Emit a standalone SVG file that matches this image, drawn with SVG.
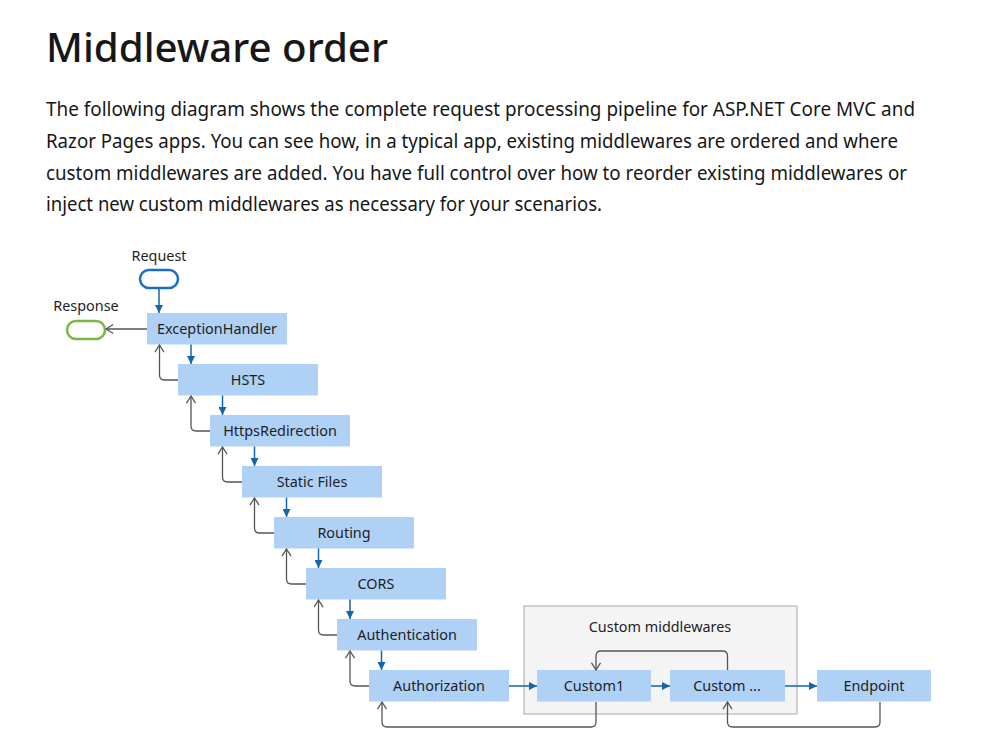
<svg xmlns="http://www.w3.org/2000/svg" width="982" height="755" viewBox="0 0 982 755">
<style>
.title{font-family:"Noto Sans","Open Sans",sans-serif;font-size:40px;font-weight:500;fill:#171717}
.body{font-family:"Noto Sans","Open Sans",sans-serif;font-size:19.5px;fill:#171717}
.box{fill:#b0d1f6}
.lbl{font-family:"Noto Sans","Open Sans",sans-serif;font-size:14.4px;fill:#1e1e1e;text-anchor:middle}
.fwd{stroke:#1565a9;stroke-width:1.5;fill:none;marker-end:url(#ah)}
.back{stroke:#555;stroke-width:1.3;fill:none;marker-end:url(#oa)}
.grp{fill:#f4f4f4;stroke:#a8a8a8;stroke-width:1}
</style>
<defs>
<marker id="ah" viewBox="0 0 10 10" refX="10" refY="5" markerWidth="8" markerHeight="8" markerUnits="userSpaceOnUse" orient="auto">
<path d="M0,0 L10,5 L0,10 z" fill="#1565a9"/>
</marker>
<marker id="oa" viewBox="0 0 10 12" refX="9" refY="6" markerWidth="9" markerHeight="11" markerUnits="userSpaceOnUse" orient="auto">
<path d="M1,1 L9,6 L1,11" fill="none" stroke="#555" stroke-width="1.4"/>
</marker>
</defs>
<rect width="982" height="755" fill="#ffffff"/>
<text class="title" x="46" y="62" textLength="342" lengthAdjust="spacingAndGlyphs">Middleware order</text>
<text class="body" x="46" y="116" textLength="869" lengthAdjust="spacingAndGlyphs">The following diagram shows the complete request processing pipeline for ASP.NET Core MVC and</text>
<text class="body" x="46" y="148" textLength="852" lengthAdjust="spacingAndGlyphs">Razor Pages apps. You can see how, in a typical app, existing middlewares are ordered and where</text>
<text class="body" x="46" y="179.5" textLength="861" lengthAdjust="spacingAndGlyphs">custom middlewares are added. You have full control over how to reorder existing middlewares or</text>
<text class="body" x="46" y="211" textLength="556" lengthAdjust="spacingAndGlyphs">inject new custom middlewares as necessary for your scenarios.</text>

<g id="custom-group">
<rect class="grp" x="524" y="606" width="273" height="108"/>
<text class="lbl" x="660" y="632">Custom middlewares</text>
</g>

<g id="request">
<text class="lbl" x="159" y="261">Request</text>
<rect x="140" y="270" width="38" height="18" rx="9" fill="#fff" stroke="#1a6fc1" stroke-width="2.5"/>
</g>
<g id="response">
<text class="lbl" x="86" y="311">Response</text>
<rect x="67" y="321" width="38" height="18" rx="9" fill="#fff" stroke="#7cb740" stroke-width="2.5"/>
</g>

<g id="exceptionhandler"><rect class="box" x="147" y="313" width="140" height="31.5"/><text class="lbl" x="217" y="334">ExceptionHandler</text></g>
<g id="hsts"><rect class="box" x="178" y="364" width="140" height="31.5"/><text class="lbl" x="248" y="385">HSTS</text></g>
<g id="httpsredirection"><rect class="box" x="210" y="415" width="140" height="31.5"/><text class="lbl" x="280" y="436">HttpsRedirection</text></g>
<g id="staticfiles"><rect class="box" x="242" y="466" width="140" height="31.5"/><text class="lbl" x="312" y="487">Static Files</text></g>
<g id="routing"><rect class="box" x="274" y="517" width="140" height="31.5"/><text class="lbl" x="344" y="538">Routing</text></g>
<g id="cors"><rect class="box" x="306" y="568" width="140" height="31.5"/><text class="lbl" x="376" y="589">CORS</text></g>
<g id="authentication"><rect class="box" x="337" y="619" width="140" height="31.5"/><text class="lbl" x="407" y="640">Authentication</text></g>
<g id="authorization"><rect class="box" x="369" y="670" width="140" height="31.5"/><text class="lbl" x="439" y="691">Authorization</text></g>
<g id="custom1"><rect class="box" x="537" y="670" width="114" height="31.5"/><text class="lbl" x="594" y="691">Custom1</text></g>
<g id="customN"><rect class="box" x="670" y="670" width="115" height="31.5"/><text class="lbl" x="727" y="691">Custom ...</text></g>
<g id="endpoint"><rect class="box" x="817" y="670" width="114" height="31.5"/><text class="lbl" x="874" y="691">Endpoint</text></g>

<g id="connectors">
<path class="fwd" d="M159,288.5 V313"/>
<path class="back" d="M147,329 H106"/>
<path class="fwd" d="M191,344.5 V364"/>
<path class="fwd" d="M222.5,395.5 V415"/>
<path class="fwd" d="M254.5,446.5 V466"/>
<path class="fwd" d="M286.5,497.5 V517"/>
<path class="fwd" d="M318.5,548.5 V568"/>
<path class="fwd" d="M350,599.5 V619"/>
<path class="fwd" d="M381.5,650.5 V670"/>
<path class="back" d="M178,380 H164.5 Q159.5,380 159.5,375 V345"/>
<path class="back" d="M210,431 H196 Q191,431 191,426 V396"/>
<path class="back" d="M242,482 H227.5 Q222.5,482 222.5,477 V447"/>
<path class="back" d="M274,533 H259.5 Q254.5,533 254.5,528 V498"/>
<path class="back" d="M306,584 H291.5 Q286.5,584 286.5,579 V549"/>
<path class="back" d="M337,635 H323.5 Q318.5,635 318.5,630 V600"/>
<path class="back" d="M369,686 H355 Q350,686 350,681 V651"/>
<path class="fwd" d="M509,686 H537"/>
<path class="fwd" d="M651,686 H670"/>
<path class="fwd" d="M785,686 H817"/>
<path class="back" d="M727.5,670 V656 Q727.5,651 722.5,651 H601 Q596,651 596,656 V670"/>
<path class="back" d="M596,702 V722 Q596,727 591,727 H387 Q382,727 382,722 V702"/>
<path class="back" d="M880,702 V722 Q880,727 875,727 H732.5 Q727.5,727 727.5,722 V702"/>
</g>
</svg>
